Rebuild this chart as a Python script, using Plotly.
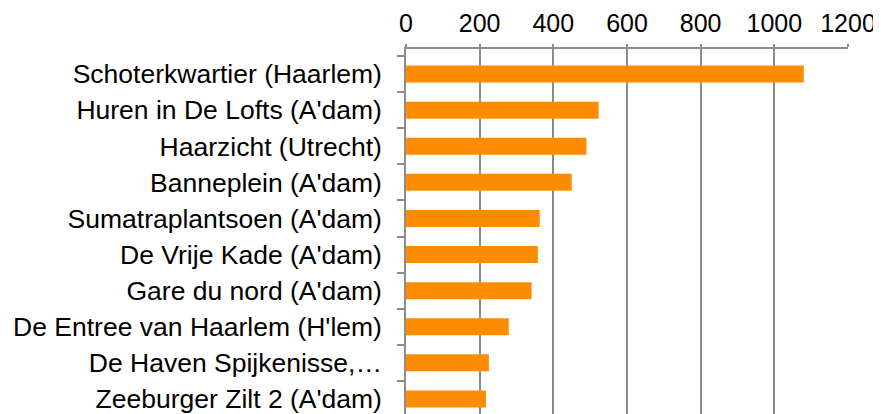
import plotly.graph_objects as go

categories = [
    "Schoterkwartier (Haarlem)",
    "Huren in De Lofts (A'dam)",
    "Haarzicht (Utrecht)",
    "Banneplein (A'dam)",
    "Sumatraplantsoen (A'dam)",
    "De Vrije Kade (A'dam)",
    "Gare du nord (A'dam)",
    "De Entree van Haarlem (H'lem)",
    "De Haven Spijkenisse,…",
    "Zeeburger Zilt 2 (A'dam)",
]
values = [1080, 523, 490, 450, 363, 358, 341, 279, 225, 217]
tick_vals = [0, 200, 400, 600, 800, 1000, 1200]

fig = go.Figure(go.Bar(
    x=values, y=categories, orientation="h",
    marker=dict(color="#FF8C00", line=dict(width=0)),
    width=0.47,
))

# page body has an 8px default margin; compensate so the chart sits like the reference
grid_col = "#8c8c8c"
fig.update_layout(
    width=873, height=406,
    margin=dict(l=398, r=33, t=41, b=0),
    plot_bgcolor="white", paper_bgcolor="white",
    showlegend=False,
    font=dict(family="Liberation Sans, Arial, sans-serif", size=26.5, color="black"),
)
fig.update_xaxes(
    side="top", range=[0, 1200], tickvals=tick_vals,
    showgrid=True, gridcolor=grid_col, gridwidth=1.5,
    showline=True, linecolor=grid_col, linewidth=1.5,
    ticks="outside", ticklen=3, tickcolor=grid_col, tickwidth=1.5,
    zeroline=False, tickfont=dict(size=25), automargin=False,
    ticklabelstandoff=2,
)
fig.update_yaxes(
    type="category", categoryorder="array", categoryarray=categories,
    range=[9.417, -0.694],
    showline=True, linecolor=grid_col, linewidth=1.5,
    ticks="outside", ticklen=7, tickcolor=grid_col, tickwidth=1.5,
    tickson="boundaries", showgrid=False, zeroline=False,
    ticklabelstandoff=17, tickfont=dict(size=26.5), automargin=False,
)
fig.write_html("out.html")
